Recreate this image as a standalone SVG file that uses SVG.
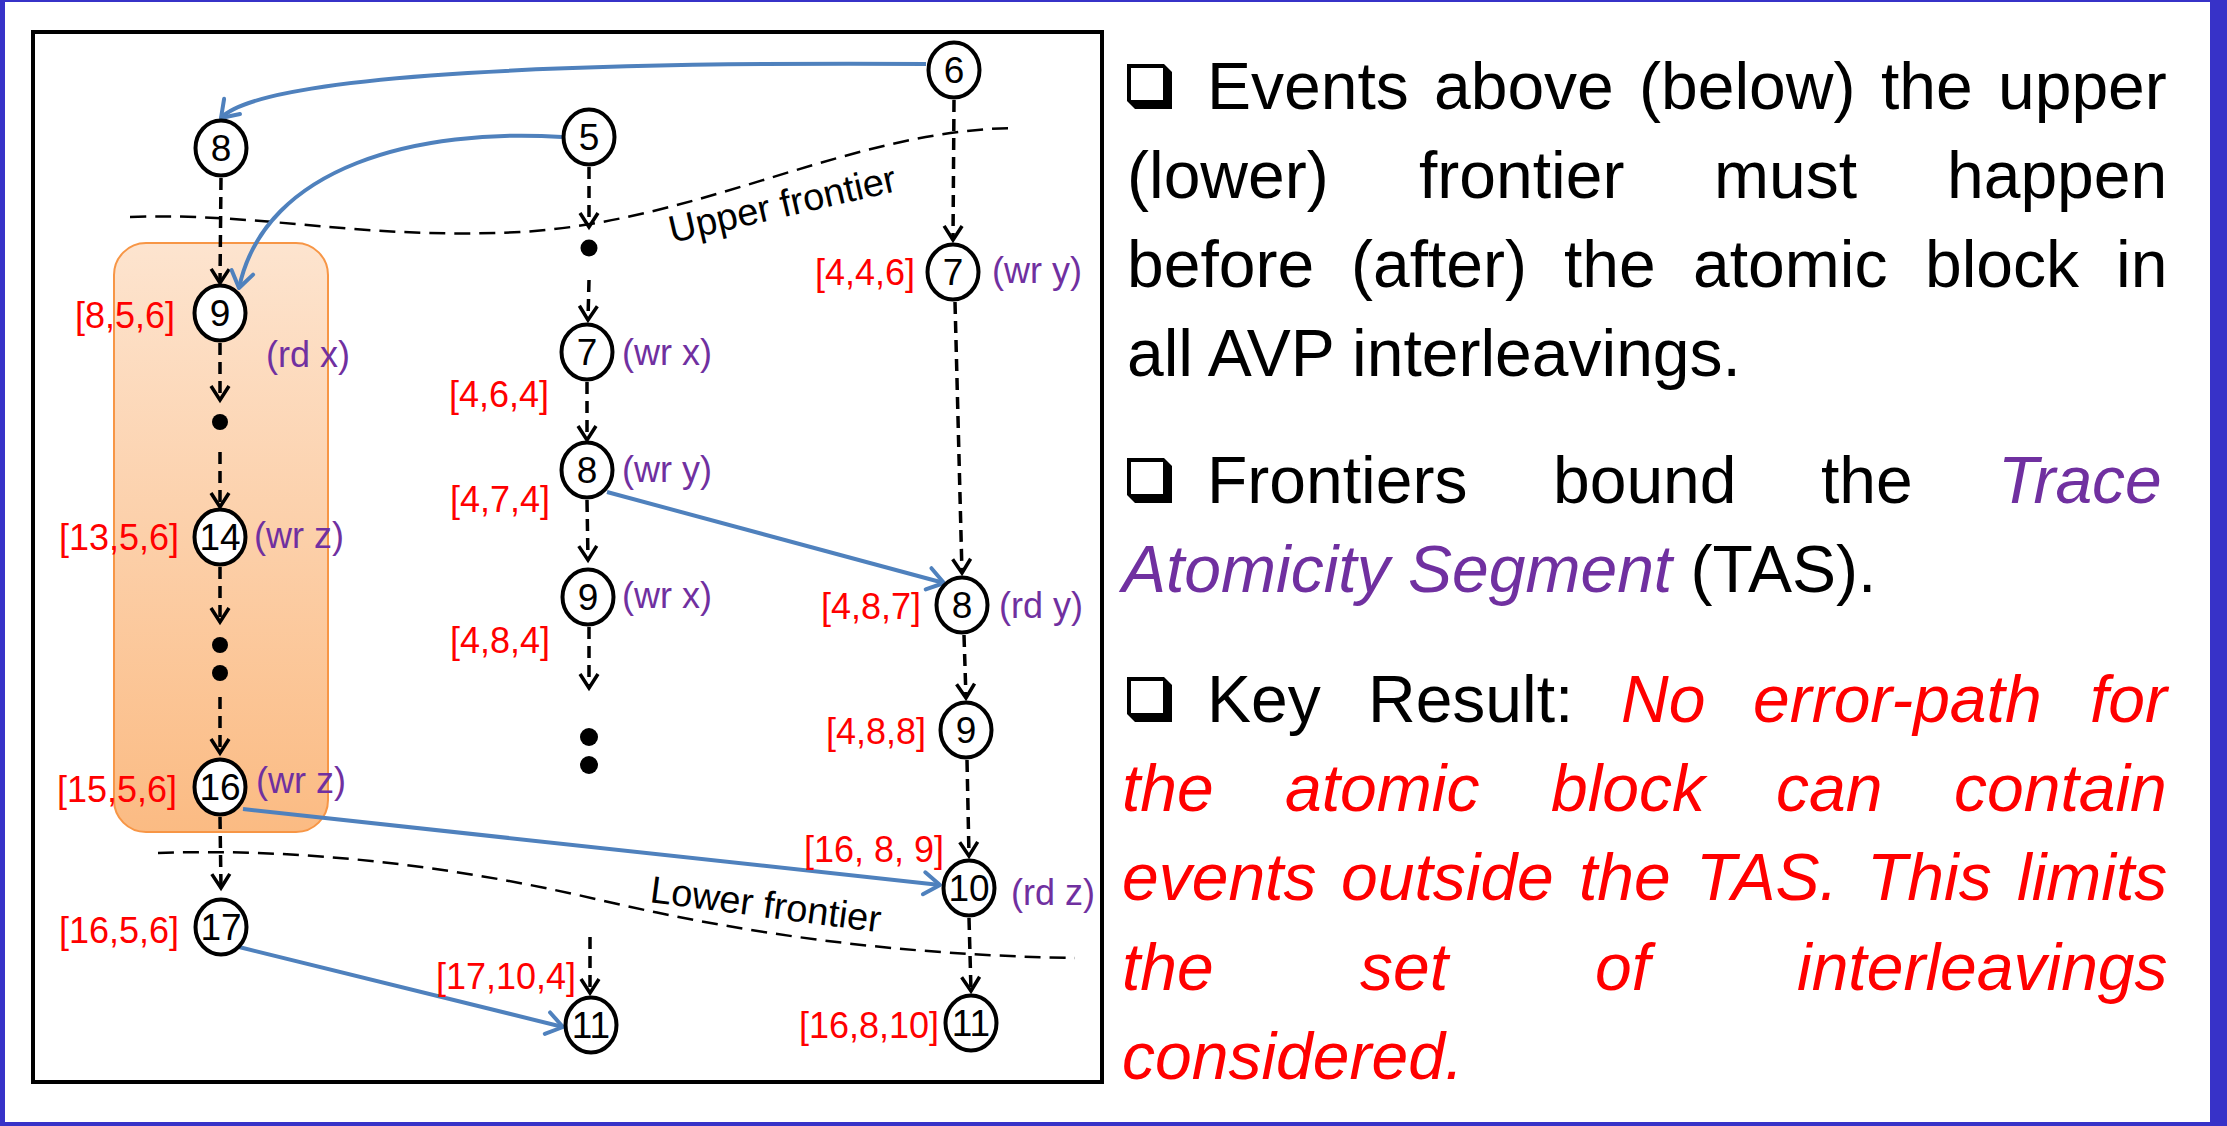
<svg xmlns="http://www.w3.org/2000/svg" width="2227" height="1126" viewBox="0 0 2227 1126">
<style>
.nd{fill:#fff;stroke:#000;stroke-width:4}
.num{font-family:"Liberation Sans",Arial,sans-serif;font-size:37px;fill:#000;text-anchor:middle}
.vc{font-family:"Liberation Sans",Arial,sans-serif;font-size:36px;fill:#ff0000}
.op{font-family:"Liberation Sans",Arial,sans-serif;font-size:36px;fill:#7030a0}
.dot{fill:#000}
.po{fill:none;stroke:#000;stroke-width:3.5;stroke-dasharray:12 7;marker-end:url(#ak)}
.rf{fill:none;stroke:#4f81bd;stroke-width:4;marker-end:url(#ab)}
.fr{fill:none;stroke:#000;stroke-width:2.5;stroke-dasharray:16 9}
.frt{font-family:"Liberation Sans",Arial,sans-serif;font-size:38px;fill:#000}
.tx{font-family:"Liberation Sans",Arial,sans-serif;font-size:66px;fill:#000}
.pi{fill:#7030a0;font-style:italic}
.ri{fill:#ff0000;font-style:italic}
</style>
<defs>
<linearGradient id="og" x1="0" y1="0" x2="0" y2="1">
<stop offset="0" stop-color="#fde4cf"/>
<stop offset="1" stop-color="#fbbb83"/>
</linearGradient>
<marker id="ak" markerUnits="userSpaceOnUse" viewBox="-18 -12 22 24" refX="0" refY="0" markerWidth="22" markerHeight="24" orient="auto" overflow="visible">
<path d="M-14,-9 L0,0 L-14,9" fill="none" stroke="#000" stroke-width="3.5" stroke-linejoin="miter"/>
</marker>
<marker id="ab" markerUnits="userSpaceOnUse" viewBox="-20 -14 24 28" refX="0" refY="0" markerWidth="24" markerHeight="28" orient="auto" overflow="visible">
<path d="M-16,-11 L0,0 L-16,11" fill="none" stroke="#4f81bd" stroke-width="4" stroke-linecap="round" stroke-linejoin="round"/>
</marker>
<g id="cb"><path d="M0,0 H37 L45,8 V45 H8 L0,37 Z" fill="#000"/><rect x="4" y="4" width="32" height="32" fill="#fff"/></g>
</defs>

<!-- page frame -->
<rect x="0" y="0" width="2227" height="1126" fill="#3732c8"/>
<rect x="5" y="2" width="2205" height="1120" fill="#fff"/>

<!-- diagram panel -->
<rect x="33" y="32" width="1069" height="1050" fill="#fff" stroke="#000" stroke-width="4"/>
<rect id="tas" x="114" y="243" width="214" height="589" rx="32" ry="32" fill="url(#og)" stroke="#f79646" stroke-width="2"/>

<!-- frontiers -->
<g id="frontiers">
<path class="fr" d="M130,217 C260,212 360,240 520,232 C700,222 850,130 1015,128"/>
<text class="frt" transform="translate(672,243) rotate(-13)">Upper frontier</text>
<path class="fr" d="M158,853 C300,848 450,865 600,900 C750,935 900,955 1075,958"/>
<text class="frt" transform="translate(649,902) rotate(7.5)">Lower frontier</text>
</g>

<!-- connectors -->
<g id="connectors">
<line class="po" x1="221" y1="178" x2="220" y2="283"/>
<line class="po" x1="220" y1="343" x2="220" y2="400"/>
<line class="po" x1="220" y1="452" x2="220" y2="507"/>
<line class="po" x1="220" y1="567" x2="220" y2="622"/>
<line class="po" x1="220" y1="697" x2="220" y2="753"/>
<line class="po" x1="220" y1="817" x2="221" y2="888"/>
<line class="po" x1="589" y1="167" x2="589" y2="227"/>
<line class="po" x1="589" y1="280" x2="588" y2="320"/>
<line class="po" x1="587" y1="382" x2="587" y2="440"/>
<line class="po" x1="587" y1="500" x2="588" y2="560"/>
<line class="po" x1="589" y1="627" x2="589" y2="688"/>
<line class="po" x1="590" y1="937" x2="590" y2="993"/>
<line class="po" x1="954" y1="100" x2="953" y2="240"/>
<line class="po" x1="955" y1="302" x2="962" y2="573"/>
<line class="po" x1="964" y1="635" x2="966" y2="698"/>
<line class="po" x1="967" y1="760" x2="969" y2="856"/>
<line class="po" x1="969" y1="918" x2="971" y2="991"/>
<path class="rf" d="M926,64 C600,62 265,72 221,118"/>
<path class="rf" d="M562,137 C420,128 265,165 239,288"/>
<line class="rf" x1="607" y1="492" x2="944" y2="583"/>
<line class="rf" x1="243" y1="809" x2="940" y2="885"/>
<line class="rf" x1="239" y1="947" x2="563" y2="1027"/>
</g>

<!-- thread 1 -->
<g id="t1-8"><ellipse class="nd" cx="221" cy="148" rx="25.5" ry="27.5"/><text class="num" x="221" y="161">8</text></g>
<g id="t1-9"><ellipse class="nd" cx="220" cy="313" rx="25.5" ry="27.5"/><text class="num" x="220" y="326">9</text><text class="vc" x="75" y="328">[8,5,6]</text><text class="op" x="266" y="367">(rd x)</text></g>
<g id="t1-dot1"><circle class="dot" cx="220" cy="422" r="8"/></g>
<g id="t1-14"><ellipse class="nd" cx="220" cy="537" rx="25.5" ry="27.5"/><text class="num" x="220" y="550">14</text><text class="vc" x="59" y="550">[13,5,6]</text><text class="op" x="254" y="548">(wr z)</text></g>
<g id="t1-dots"><circle class="dot" cx="220" cy="645" r="8"/><circle class="dot" cx="220" cy="673" r="8"/></g>
<g id="t1-16"><ellipse class="nd" cx="220" cy="787" rx="25.5" ry="27.5"/><text class="num" x="220" y="800">16</text><text class="vc" x="57" y="802">[15,5,6]</text><text class="op" x="256" y="793">(wr z)</text></g>
<g id="t1-17"><ellipse class="nd" cx="221" cy="927" rx="25.5" ry="27.5"/><text class="num" x="221" y="940">17</text><text class="vc" x="59" y="943">[16,5,6]</text></g>

<!-- thread 2 -->
<g id="t2-5"><ellipse class="nd" cx="589" cy="137" rx="25.5" ry="27.5"/><text class="num" x="589" y="150">5</text></g>
<g id="t2-dot"><circle class="dot" cx="589" cy="248" r="8.5"/></g>
<g id="t2-7"><ellipse class="nd" cx="587" cy="352" rx="25.5" ry="27.5"/><text class="num" x="587" y="365">7</text><text class="op" x="622" y="365">(wr x)</text><text class="vc" x="449" y="407">[4,6,4]</text></g>
<g id="t2-8"><ellipse class="nd" cx="587" cy="470" rx="25.5" ry="27.5"/><text class="num" x="587" y="483">8</text><text class="op" x="622" y="482">(wr y)</text><text class="vc" x="450" y="512">[4,7,4]</text></g>
<g id="t2-9"><ellipse class="nd" cx="588" cy="597" rx="25.5" ry="27.5"/><text class="num" x="588" y="610">9</text><text class="op" x="622" y="608">(wr x)</text><text class="vc" x="450" y="653">[4,8,4]</text></g>
<g id="t2-dots"><circle class="dot" cx="589" cy="737" r="9"/><circle class="dot" cx="589" cy="765" r="9"/></g>
<g id="t2-11"><ellipse class="nd" cx="591" cy="1025" rx="25.5" ry="27.5"/><text class="num" x="591" y="1038">11</text><text class="vc" x="436" y="989">[17,10,4]</text></g>

<!-- thread 3 -->
<g id="t3-6"><ellipse class="nd" cx="954" cy="70" rx="25.5" ry="27.5"/><text class="num" x="954" y="83">6</text></g>
<g id="t3-7"><ellipse class="nd" cx="953" cy="272" rx="25.5" ry="27.5"/><text class="num" x="953" y="285">7</text><text class="vc" x="815" y="285">[4,4,6]</text><text class="op" x="992" y="283">(wr y)</text></g>
<g id="t3-8"><ellipse class="nd" cx="962" cy="605" rx="25.5" ry="27.5"/><text class="num" x="962" y="618">8</text><text class="vc" x="821" y="619">[4,8,7]</text><text class="op" x="999" y="618">(rd y)</text></g>
<g id="t3-9"><ellipse class="nd" cx="966" cy="730" rx="25.5" ry="27.5"/><text class="num" x="966" y="743">9</text><text class="vc" x="826" y="744">[4,8,8]</text></g>
<g id="t3-10"><ellipse class="nd" cx="969" cy="888" rx="25.5" ry="27.5"/><text class="num" x="969" y="901">10</text><text class="vc" x="804" y="862">[16, 8, 9]</text><text class="op" x="1011" y="905">(rd z)</text></g>
<g id="t3-11"><ellipse class="nd" cx="971" cy="1023" rx="25.5" ry="27.5"/><text class="num" x="971" y="1036">11</text><text class="vc" x="799" y="1038">[16,8,10]</text></g>

<!-- notes -->
<g id="notes">
<use href="#cb" x="1127" y="64"/>
<use href="#cb" x="1127" y="458"/>
<use href="#cb" x="1127" y="677"/>
<text class="tx" y="109"><tspan x="1207">Events</tspan><tspan x="1434">above</tspan><tspan x="1639">(below)</tspan><tspan x="1881">the</tspan><tspan x="1998">upper</tspan></text>
<text class="tx" y="198"><tspan x="1127">(lower)</tspan><tspan x="1419">frontier</tspan><tspan x="1714">must</tspan><tspan x="1947">happen</tspan></text>
<text class="tx" y="287"><tspan x="1127">before</tspan><tspan x="1351">(after)</tspan><tspan x="1564">the</tspan><tspan x="1693">atomic</tspan><tspan x="1925">block</tspan><tspan x="2116">in</tspan></text>
<text class="tx" x="1127" y="376">all AVP interleavings.</text>
<text class="tx" y="503"><tspan x="1207">Frontiers</tspan><tspan x="1553">bound</tspan><tspan x="1821">the</tspan><tspan x="1998" class="pi">Trace</tspan></text>
<text class="tx" x="1122" y="592"><tspan class="pi">Atomicity Segment</tspan> (TAS).</text>
<text class="tx" y="722"><tspan x="1207">Key</tspan><tspan x="1368">Result:</tspan><tspan x="1621" class="ri">No</tspan><tspan x="1753" class="ri">error-path</tspan><tspan x="2090" class="ri">for</tspan></text>
<text class="tx ri" y="811"><tspan x="1122">the</tspan><tspan x="1285">atomic</tspan><tspan x="1551">block</tspan><tspan x="1776">can</tspan><tspan x="1954">contain</tspan></text>
<text class="tx ri" y="900"><tspan x="1122">events</tspan><tspan x="1341">outside</tspan><tspan x="1579">the</tspan><tspan x="1696">TAS.</tspan><tspan x="1867">This</tspan><tspan x="2017">limits</tspan></text>
<text class="tx ri" y="990"><tspan x="1122">the</tspan><tspan x="1360">set</tspan><tspan x="1595">of</tspan><tspan x="1797">interleavings</tspan></text>
<text class="tx ri" x="1122" y="1079">considered.</text>
</g>
</svg>
